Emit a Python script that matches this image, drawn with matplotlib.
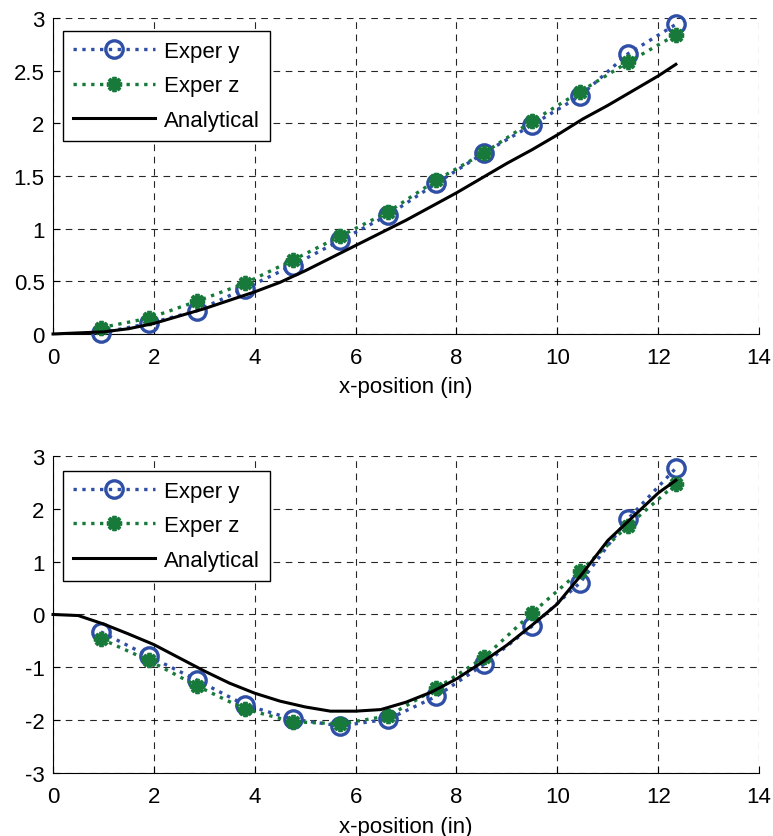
import numpy as np
import matplotlib.pyplot as plt

plt.rcParams['font.family'] = ['Liberation Sans', 'DejaVu Sans']
plt.rcParams['font.size'] = 16

# measurement stations (in)
x_exp = [0.95, 1.9, 2.85, 3.8, 4.75, 5.7, 6.65, 7.6, 8.55, 9.5, 10.45, 11.4, 12.35]

# upper panel
top_y = [0.01, 0.10, 0.22, 0.43, 0.65, 0.89, 1.13, 1.43, 1.72, 1.985, 2.26, 2.66, 2.94]
top_z = [0.06, 0.15, 0.31, 0.48, 0.70, 0.93, 1.16, 1.46, 1.72, 2.02, 2.30, 2.58, 2.84]

# lower panel
bot_y = [-0.33, -0.79, -1.24, -1.71, -1.98, -2.11, -1.98, -1.55, -0.94, -0.22, 0.60, 1.81, 2.77]
bot_z = [-0.46, -0.87, -1.35, -1.79, -2.03, -2.07, -1.92, -1.40, -0.81, 0.03, 0.82, 1.68, 2.47]

# analytical solution
x_an = [0, 0.5, 1.0, 1.5, 2.0, 2.5, 3.0, 3.5, 4.0, 4.5, 5.0, 5.5, 6.0,
        6.5, 7.0, 7.5, 8.0, 8.5, 9.0, 9.5, 10.0, 10.5, 11.0, 11.5, 12.0, 12.35]
top_an = [0, 0.01, 0.02, 0.05, 0.10, 0.17, 0.24, 0.32, 0.40, 0.49, 0.60, 0.72, 0.84,
          0.96, 1.08, 1.21, 1.34, 1.48, 1.62, 1.75, 1.89, 2.04, 2.17, 2.31, 2.45, 2.56]
bot_an = [0, -0.02, -0.18, -0.37, -0.57, -0.82, -1.07, -1.30, -1.49, -1.64, -1.75, -1.83, -1.83,
          -1.80, -1.66, -1.47, -1.22, -0.91, -0.58, -0.20, 0.20, 0.78, 1.40, 1.85, 2.30, 2.54]

blue = '#2f4fa6'
green = '#17793a'

fig = plt.figure(figsize=(7.73, 8.37), dpi=100)
ax1 = fig.add_axes([0.0686, 0.5998, 0.9134, 0.3775])
ax2 = fig.add_axes([0.0686, 0.0753, 0.9134, 0.3787])


def draw(ax, ye, ze, ya, ylim, yticks, top_pad):
    ax.plot(x_exp, ye, color=blue, linestyle=':', linewidth=2.4, marker='o',
            markersize=12.5, markerfacecolor='none', markeredgewidth=2.4,
            label='Exper y', clip_on=False, zorder=3)
    ax.plot(x_exp, ze, color=green, linestyle=':', linewidth=2.4, marker=(8, 2, 0),
            markersize=11, markeredgewidth=2.8, label='Exper z', clip_on=False, zorder=3)
    ax.plot(x_an, ya, color='black', linewidth=2.2, label='Analytical', clip_on=False, zorder=3)
    ax.set_xlim(0, 14)
    ax.set_ylim(*ylim)
    ax.set_xticks(np.arange(0, 15, 2))
    ax.set_yticks(yticks)
    ax.set_yticklabels([f'{t:g}' for t in yticks])
    ax.grid(True, color='black', linestyle=(0, (6, 5)), linewidth=0.8, alpha=0.85)
    ax.spines['top'].set_visible(False)
    ax.spines['right'].set_visible(False)
    ax.tick_params(direction='in', length=5, labelsize=16)
    ax.tick_params(axis='x', pad=9.5)
    ax.tick_params(axis='y', pad=6)
    ax.set_xlabel('x-position (in)', fontsize=16, labelpad=6)
    leg = ax.legend(loc='upper left', bbox_to_anchor=(0.014, top_pad), fontsize=16,
                    handlelength=3.7, handletextpad=0.4, labelspacing=0.6,
                    borderpad=0.45, borderaxespad=0, fancybox=False, framealpha=1)
    leg.get_frame().set_edgecolor('black')
    leg.get_frame().set_linewidth(1.0)
    leg.set_zorder(5)


draw(ax1, top_y, top_z, top_an, (0, 3), [0, 0.5, 1, 1.5, 2, 2.5, 3], 0.959)
draw(ax2, bot_y, bot_z, bot_an, (-3, 3), [-3, -2, -1, 0, 1, 2, 3], 0.953)

fig.savefig('out.png', dpi=100)
